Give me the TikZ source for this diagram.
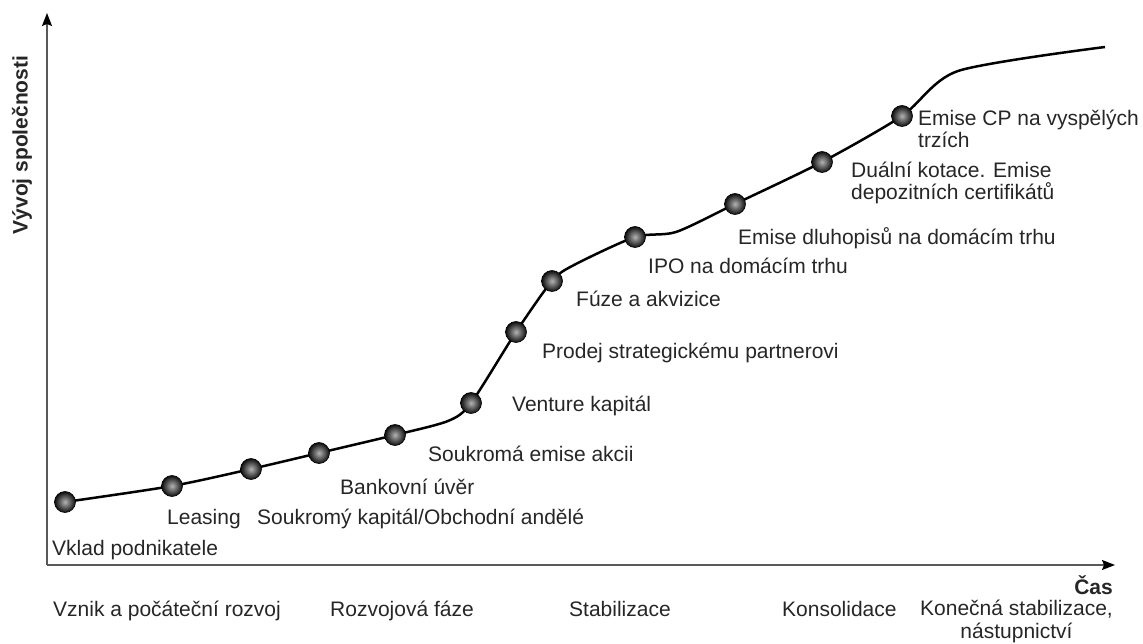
\documentclass[tikz,border=0pt]{standalone}
\usepackage{fontspec}
\setmainfont{Liberation Sans}
\usetikzlibrary{arrows.meta}
\begin{document}
\begin{tikzpicture}[x=1pt,y=-1pt,
  lbl/.style={font=\fontsize{21}{22.5}\selectfont, text=black!85, inner sep=0pt, anchor=base west},
  ml/.style={lbl, align=left},
  blbl/.style={font=\fontsize{21}{22.5}\selectfont\bfseries, text=black!85, inner sep=0pt},
  dot/.style={circle, minimum size=21pt, inner sep=0pt, shading=radial, inner color=gray!60, outer color=black!95, draw=black, line width=0.6pt},
  axis/.style={draw=black!65, line width=1.3pt, -{Stealth[length=13pt,width=10pt,inset=2pt,black]}},
  curve/.style={line width=2.5pt, black, line join=round}]
\useasboundingbox (0,0) rectangle (1143,644);
% axes
\coordinate (O) at (47,565);
\coordinate (Ytop) at (47,13);
\coordinate (Xend) at (1115,565);
\draw[axis] (O) -- (Ytop);
\draw[axis] (O) -- (Xend);
\node[blbl, rotate=90] (ylab) at (22,145) {Vývoj společnosti};
\node[blbl, anchor=base east] (xlab) at (1113,594) {Čas};
% dots positions
\coordinate (d1) at (65,502);
\coordinate (d2) at (172,486);
\coordinate (d3) at (251,469);
\coordinate (d4) at (319,453);
\coordinate (d5) at (395,435);
\coordinate (d6) at (471,403);
\coordinate (d7) at (516,332);
\coordinate (d8) at (552,281);
\coordinate (d9) at (635,237);
\coordinate (d10) at (735,204);
\coordinate (d11) at (822,162);
\coordinate (d12) at (902,116);
\coordinate (b1) at (448,421);
\coordinate (b2) at (574,265);
\coordinate (b3) at (676,232);
\coordinate (b4) at (958,71);
\coordinate (cend) at (1105,47);
% curve
\draw[curve] plot[smooth, tension=0.45] coordinates {(d1) (d2) (d3) (d4) (d5) (b1) (d6) (d7) (d8) (b2) (d9) (b3) (d10) (d11) (d12) (b4) (cend)};
% dots
\foreach \p in {d1,d2,d3,d4,d5,d6,d7,d8,d9,d10,d11,d12}
  \node[dot] (n\p) at (\p) {};
% labels
\node[lbl] (l1) at (52,555) {Vklad podnikatele};
\node[lbl] (l2) at (167,524) {Leasing};
\node[lbl] (l3) at (257,524) {Soukromý kapitál/Obchodní andělé};
\node[lbl] (l4) at (340,494) {Bankovní úvěr};
\node[lbl] (l5) at (428,461) {Soukromá emise akcii};
\node[lbl] (l6) at (512,411) {Venture kapitál};
\node[lbl] (l7) at (542,358) {Prodej strategickému partnerovi};
\node[lbl] (l8) at (576,306) {Fúze a akvizice};
\node[lbl] (l9) at (648,274) {IPO na domácím trhu};
\node[lbl] (l10) at (738,245) {Emise dluhopisů na domácím trhu};
\node[ml] (l11) at (851,200) {Duální kotace. Emise\\depozitních certifikátů};
\node[ml] (l12) at (918,148) {Emise CP na vyspělých\\trzích};
% phases
\node[lbl] (p1) at (53,616) {Vznik a počáteční rozvoj};
\node[lbl] (p2) at (330,616) {Rozvojová fáze};
\node[lbl] (p3) at (569,616) {Stabilizace};
\node[lbl] (p4) at (782,616) {Konsolidace};
\node[lbl, align=center] (p5) at (920,638) {Konečná stabilizace,\\nástupnictví};
\end{tikzpicture}
\end{document}
